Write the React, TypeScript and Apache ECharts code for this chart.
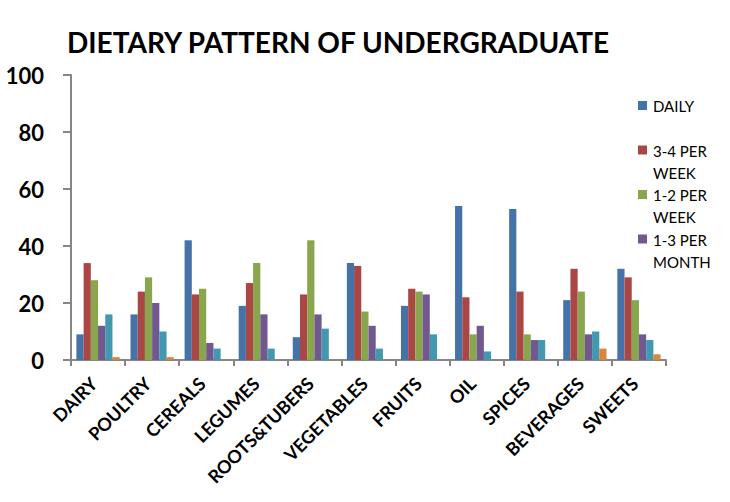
import React, { useEffect, useRef } from "react";
import * as echarts from "echarts";

// Food groups on the x axis
const categories = [
  "DAIRY",
  "POULTRY",
  "CEREALS",
  "LEGUMES",
  "ROOTS&TUBERS",
  "VEGETABLES",
  "FRUITS",
  "OIL",
  "SPICES",
  "BEVERAGES",
  "SWEETS",
];

// Consumption frequency series (percent of respondents)
const daily = [9, 16, 42, 19, 8, 34, 19, 54, 53, 21, 32];
const threeToFourPerWeek = [34, 24, 23, 27, 23, 33, 25, 22, 24, 32, 29];
const oneToTwoPerWeek = [28, 29, 25, 34, 42, 17, 24, 9, 9, 24, 21];
const oneToThreePerMonth = [12, 20, 6, 16, 16, 12, 23, 12, 7, 9, 9];
const rarely = [16, 10, 4, 4, 11, 4, 9, 3, 7, 10, 7];
const never = [1, 1, 0, 0, 0, 0, 0, 0, 0, 4, 2];

const seriesNames = ["DAILY", "3-4 PER WEEK", "1-2 PER WEEK", "1-3 PER MONTH", "RARELY", "NEVER"];
const seriesValues = [daily, threeToFourPerWeek, oneToTwoPerWeek, oneToThreePerMonth, rarely, never];
const seriesColors = ["#4572A7", "#AA4643", "#89A54E", "#71588F", "#4198AF", "#DB843D"];

// Legend entries shown beside the plot (wrapped as in the legend box)
const legendLabels = ["DAILY", "3-4 PER\nWEEK", "1-2 PER\nWEEK", "1-3 PER\nMONTH"];

const yTicks = { min: 0, max: 100, interval: 20 };

const TITLE = "DIETARY PATTERN OF UNDERGRADUATE";
const FONT = "Lato, 'Open Sans', sans-serif";
const AXIS_GREY = "#868686";

export default function App() {
  const ref = useRef<HTMLDivElement>(null);

  useEffect(() => {
    if (!ref.current) return;
    const chart = echarts.init(ref.current, null, { renderer: "svg" });

    const legendGraphics: any[] = [];
    legendLabels.forEach((label, i) => {
      const y = 101 + i * 44.5;
      legendGraphics.push({
        type: "rect",
        left: 638,
        top: y,
        shape: { width: 9, height: 9 },
        style: { fill: seriesColors[i] },
      });
      legendGraphics.push({
        type: "text",
        left: 653,
        top: y - 6,
        style: {
          text: label,
          font: `15px ${FONT}`,
          lineHeight: 22,
          fill: "#000",
        },
      });
    });

    chart.setOption({
      animation: false,
      backgroundColor: "#fff",
      title: {
        text: TITLE,
        left: 62,
        top: 23,
        textStyle: {
          fontFamily: FONT,
          fontWeight: "bold",
          fontSize: 28,
          color: "#000",
        },
      },
      grid: { left: 71, right: 64, top: 75, bottom: 142, containLabel: false },
      xAxis: {
        type: "category",
        data: categories,
        axisLine: { lineStyle: { color: AXIS_GREY, width: 2 } },
        axisTick: { show: true, length: 6, lineStyle: { color: AXIS_GREY, width: 2 } },
        axisLabel: {
          interval: 0,
          rotate: 45,
          margin: 16,
          padding: [0, 6, 0, 0],
          fontFamily: FONT,
          fontWeight: "bold",
          fontSize: 18,
          color: "#000",
        },
      },
      yAxis: {
        type: "value",
        min: yTicks.min,
        max: yTicks.max,
        interval: yTicks.interval,
        splitLine: { show: false },
        axisLine: { show: true, lineStyle: { color: AXIS_GREY, width: 2 } },
        axisTick: { show: true, length: 8, lineStyle: { color: AXIS_GREY, width: 2 } },
        axisLabel: {
          margin: 27,
          fontFamily: FONT,
          fontWeight: "bold",
          fontSize: 22,
          color: "#000",
        },
      },
      series: seriesNames.map((name, i) => ({
        name,
        type: "bar",
        data: seriesValues[i],
        barGap: "0%",
        barCategoryGap: "20%",
        itemStyle: { color: seriesColors[i] },
      })),
      graphic: legendGraphics,
    });

    return () => chart.dispose();
  }, []);

  return (
    <div
      ref={ref}
      style={{ position: "fixed", left: 0, top: 0, width: 730, height: 502 }}
    />
  );
}
